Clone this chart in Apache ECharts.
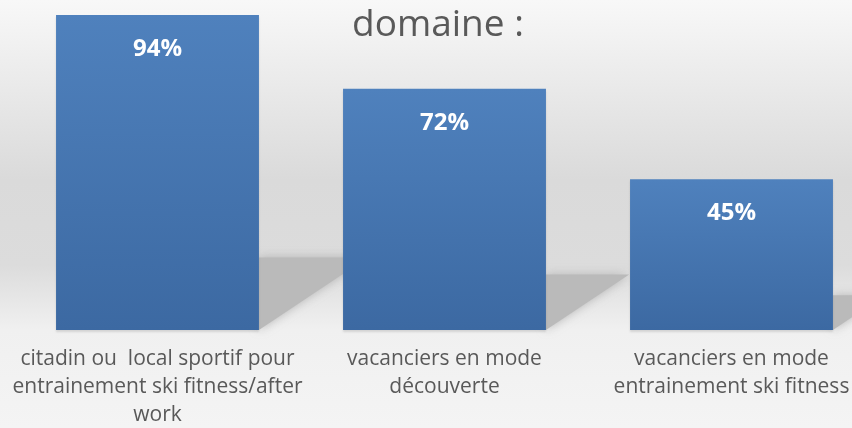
<!DOCTYPE html>
<html>
<head>
<meta charset="utf-8">
<script src="https://cdn.jsdelivr.net/npm/echarts@6/dist/echarts.min.js"></script>
<style>
  html, body { margin: 0; padding: 0; }
  #main { width: 852px; height: 428px; }
</style>
</head>
<body>
<div id="main"></div>
<script>
// données du graphique
var categories = [
  'citadin ou  local sportif pour\nentrainement ski fitness/after\nwork',
  'vacanciers en mode\ndécouverte',
  'vacanciers en mode\nentrainement ski fitness'
];
var values = [94, 72, 45];
var titleText = 'domaine :';

var dom = document.getElementById('main');
var myChart = echarts.init(dom);

// ombre portée derrière chaque barre (calculée depuis la valeur)
function renderShadow (params, api) {
  var top = api.coord([api.value(0), api.value(1)]);
  var base = api.coord([api.value(0), 0]);
  var w = api.size([1, 0])[0] * 0.707;
  var xr = base[0] + w / 2;
  var s = (base[1] - top[1]) * 0.23;
  return {
    type: 'polygon',
    shape: {
      points: [[xr, base[1]], [xr, base[1] - s], [xr + s * 1.5, base[1] - s]]
    },
    style: {
      fill: '#bababa',
      shadowBlur: 10,
      shadowColor: 'rgba(150,150,150,0.6)'
    }
  };
}

var option = {
  backgroundColor: {
    type: 'linear', x: 0, y: 0, x2: 0, y2: 1,
    colorStops: [
      { offset: 0, color: '#f8f8f8' },
      { offset: 0.42, color: '#dadada' },
      { offset: 0.62, color: '#dcdcdc' },
      { offset: 0.77, color: '#f0f0f0' },
      { offset: 1, color: '#f4f4f4' }
    ]
  },
  title: {
    text: titleText,
    left: 347,
    top: 2,
    textStyle: {
      fontFamily: 'Open Sans',
      fontSize: 37,
      fontWeight: 'normal',
      color: '#595959'
    }
  },
  grid: { left: 14, width: 861, top: -5, bottom: 98, outerBoundsMode: 'none', containLabel: false },
  xAxis: {
    type: 'category',
    data: categories,
    axisLine: { show: false },
    axisTick: { show: false },
    axisLabel: {
      margin: 15,
      fontFamily: 'Open Sans',
      fontSize: 21,
      lineHeight: 28,
      color: '#595959',
      interval: 0
    }
  },
  yAxis: {
    type: 'value',
    min: 0,
    max: 100,
    show: false,
    splitLine: { show: false }
  },
  series: [
    {
      type: 'custom',
      z: 1,
      silent: true,
      renderItem: renderShadow,
      data: values.map(function (v, i) { return [i, v]; })
    },
    {
      type: 'bar',
      z: 3,
      data: values,
      barWidth: '70.7%',
      itemStyle: {
        color: {
          type: 'linear', x: 0, y: 0, x2: 0, y2: 1,
          colorStops: [
            { offset: 0, color: '#4f81bd' },
            { offset: 1, color: '#3c69a2' }
          ]
        },
        shadowColor: 'rgba(0,0,0,0.12)',
        shadowOffsetY: 2,
        shadowBlur: 2
      },
      label: {
        show: true,
        position: 'insideTop',
        distance: 22,
        formatter: '{c}%',
        fontFamily: 'Open Sans',
        fontSize: 24,
        fontWeight: 'bold',
        color: '#ffffff'
      }
    }
  ]
};

myChart.setOption(option);
</script>
</body>
</html>
